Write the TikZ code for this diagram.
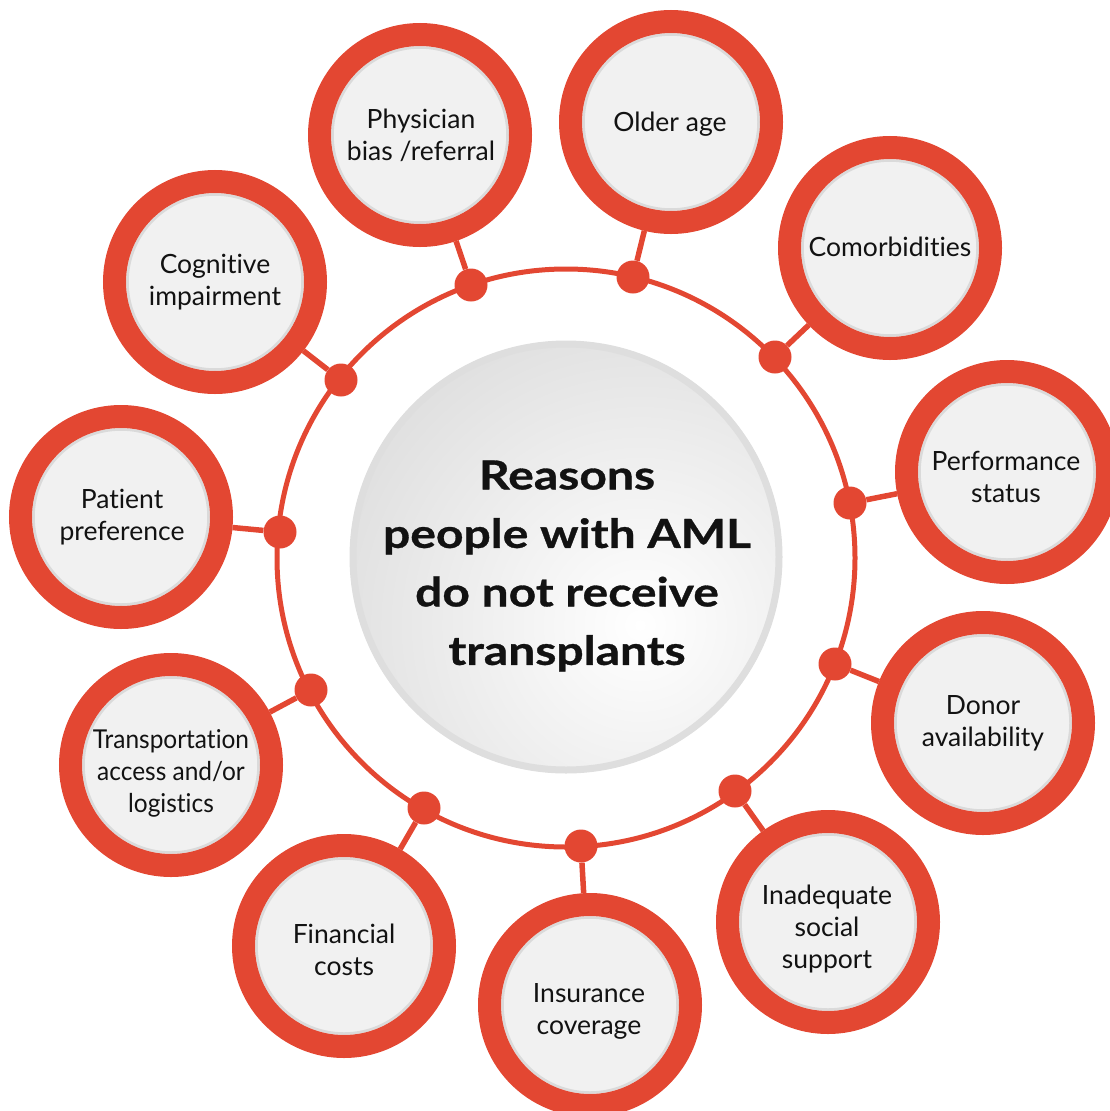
\documentclass[tikz,border=0pt]{standalone}
\usepackage{fontspec}
\setmainfont{Lato}[Ligatures={NoCommon}]
\newfontfamily\titlefont{Lato}[Ligatures={NoCommon}, FakeStretch=1.2, FakeBold=0.8]
\newfontfamily\narrowfont{Lato}[Ligatures={NoCommon}, FakeStretch=0.94]
\definecolor{ringred}{RGB}{227,71,50}
\definecolor{discfill}{RGB}{241,241,241}
\definecolor{discedge}{RGB}{218,218,218}
\definecolor{hubedge}{RGB}{222,222,222}
\definecolor{hubshade}{RGB}{192,192,192}
\definecolor{ink}{RGB}{18,18,18}
\begin{document}
\begin{tikzpicture}[x=1pt,y=-1pt,
  reason/.style={circle, draw=ringred, line width=23pt, fill=discfill,
    minimum size=201pt, inner sep=0pt,
    path picture={\draw[discedge, line width=2.5pt]
      (path picture bounding box.center) circle[radius=87.5pt];}},
  caption/.style={align=center, text=ink, inner sep=0pt,
    font=\fontsize{26.5}{32}\selectfont},
  joint/.style={circle, fill=ringred, minimum size=33pt, inner sep=0pt},
  link/.style={draw=ringred, line width=5.5pt}]
\useasboundingbox (0,0) rectangle (1109,1111);

% orbit ring
\draw[ringred, line width=5pt] (566,558) circle[radius=289pt];

% central disc with soft shading
\begin{scope}
  \clip (566,557) circle[radius=216pt];
  \shade[inner color=white, outer color=hubshade] (640,625) circle[radius=640pt];
\end{scope}
\draw[hubedge, line width=7pt] (566,557) circle[radius=213pt];
\node[align=center, text=ink, inner sep=0pt,
  font=\titlefont\bfseries\fontsize{40}{58.5}\selectfont]
  (title) at (567,566) {Reasons\\people with AML\\do not receive\\transplants};

% joints on the ring
\node[joint] (d1)  at (471,285) {};
\node[joint] (d2)  at (633,277) {};
\node[joint] (d3)  at (775,357) {};
\node[joint] (d4)  at (850,503) {};
\node[joint] (d5)  at (835,664) {};
\node[joint] (d6)  at (735,791) {};
\node[joint] (d7)  at (581,846) {};
\node[joint] (d8)  at (424,808) {};
\node[joint] (d9)  at (311,690) {};
\node[joint] (d10) at (280,532) {};
\node[joint] (d11) at (341,380) {};

% reason discs
\node[reason] (r1)  at (420,135)  {};
\node[reason] (r2)  at (671,122)  {};
\node[reason] (r3)  at (890,248)  {};
\node[reason] (r4)  at (1007,472) {};
\node[reason] (r5)  at (983,723)  {};
\node[reason] (r6)  at (828,922)  {};
\node[reason] (r7)  at (590,1005) {};
\node[reason] (r8)  at (344,946)  {};
\node[reason] (r9)  at (171,765)  {};
\node[reason] (r10) at (121,517)  {};
\node[reason] (r11) at (215,282)  {};

% captions
\node[caption] (t1)  at (421,135)  {Physician\\bias /referral};
\node[caption] (t2)  at (670,124)  {Older age};
\node[caption] (t3)  at (890,247)  {Comorbidities};
\node[caption] (t4)  at (1006,477) {Performance\\status};
\node[caption] (t5)  at (983,723)  {Donor\\availability};
\node[caption] (t6)  at (827,929)  {Inadequate\\social\\support};
\node[caption] (t7)  at (589,1011) {Insurance\\coverage};
\node[caption] (t8)  at (344,950)  {Financial\\costs};
\node[caption, font=\narrowfont\fontsize{26}{32}\selectfont]
  (t9)  at (171,773)  {Transportation\\access and/or\\logistics};
\node[caption] (t10) at (122,517)  {Patient\\preference};
\node[caption] (t11) at (215,282)  {Cognitive\\impairment};

% spokes
\foreach \i in {1,...,11}
  \draw[link] (d\i) -- (r\i);
\end{tikzpicture}
\end{document}
